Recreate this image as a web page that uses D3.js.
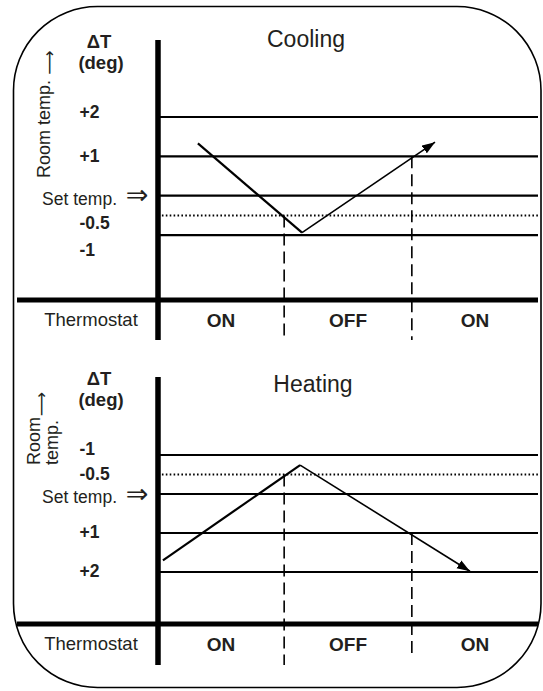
<!DOCTYPE html>
<html><head><meta charset="utf-8">
<script src="https://cdn.jsdelivr.net/npm/d3@7"></script>
<style>
body{margin:0;background:#fff}
svg{display:block}
text{font-family:"Liberation Sans",Arial,Helvetica,sans-serif;fill:#231f20}
</style>
</head><body>
<svg id="c" width="543" height="691"></svg>
<script>
// ---------- data ----------
const levelValues = [2, 1, 0, -0.5, -1];
const levelLabels = ["+2", "+1", "Set temp.", "-0.5", "-1"];
const dottedLevel = -0.5;
const switchTimes = [33.2, 66.8];
const switchLevels = [-0.5, 1];
const thermostatStates = ["ON", "OFF", "ON"];
const coolingTimes = [10.5, 37.9, 72.9];
const coolingDelta = [1.33, -0.94, 1.36];
const heatingTimes = [1.3, 37.4, 82.1];
const heatingDelta = [1.70, -0.74, 1.98];
const panelTitles = ["Cooling", "Heating"];

// ---------- layout ----------
const svg = d3.select("#c");
const x = d3.scaleLinear().domain([0, 100]).range([158, 538]);

const panels = [
  {title: panelTitles[0], times: coolingTimes, vals: coolingDelta,
   y: d3.scaleLinear().domain([0, 2]).range([195.7, 117]),
   axisTop: 40, axisBottom: 340, thermoY: 300, dashEnd: [340, 340],
   titleX: 306, titleY: 47, dTy: 48, degY: 69,
   labelDy: [0.5, 5.6, 8.8, 13.6, 21], stateY: 327, thermoText: 326},
  {title: panelTitles[1], times: heatingTimes, vals: heatingDelta,
   y: d3.scaleLinear().domain([0, 2]).range([494, 572]),
   axisTop: 377, axisBottom: 665, thermoY: 624, dashEnd: [665, 657],
   titleX: 313, titleY: 392, dTy: 385, degY: 406,
   labelDy: [5, 5, 9, 5.5, 0], stateY: 651, thermoText: 650}
];

// frame
svg.append("rect").attr("x", 13.5).attr("y", 6.5).attr("width", 527.5).attr("height", 681)
  .attr("rx", 84).attr("ry", 84).attr("fill", "none").attr("stroke", "#000").attr("stroke-width", 1.6);

// marker
svg.append("defs").append("marker").attr("id", "arr")
  .attr("viewBox", "0 -5 13 10").attr("refX", 13).attr("refY", 0)
  .attr("markerWidth", 13).attr("markerHeight", 10).attr("markerUnits", "userSpaceOnUse")
  .attr("orient", "auto")
  .append("path").attr("d", "M0,-4.6L13,0L0,4.6Z").attr("fill", "#000");

const line = (p) => d3.line().x(d => x(d[0])).y(d => p.y(d[1]));

panels.forEach((p, pi) => {
  const g = svg.append("g");
  // level lines
  levelValues.forEach(v => {
    g.append("line").attr("x1", x.range()[0]).attr("x2", x.range()[1])
      .attr("y1", p.y(v)).attr("y2", p.y(v))
      .attr("stroke", "#000").attr("stroke-width", v === dottedLevel ? 2 : 2.2)
      .attr("stroke-dasharray", v === dottedLevel ? "1.6,2.3" : null);
  });
  // labels
  levelValues.forEach((v, i) => {
    const yy = p.y(v) + p.labelDy[i];
    if (v === 0) {
      g.append("text").attr("x", 117).attr("y", yy).attr("text-anchor", "end")
        .attr("font-size", 17.5).text(levelLabels[i]);
      g.append("text").attr("x", 137).attr("y", p.y(v) + 8.5).attr("text-anchor", "middle")
        .style("font-family", "'DejaVu Sans',sans-serif").attr("font-size", 27).text("\u21D2");
    } else {
      g.append("text").attr("x", 79.5).attr("y", yy).attr("font-size", 17.5)
        .attr("font-weight", "bold").text(levelLabels[i]);
    }
  });
  // ΔT (deg)
  g.append("text").attr("x", 99).attr("y", p.dTy).attr("text-anchor", "middle")
    .attr("font-size", 18.5).attr("font-weight", "bold").text("\u0394T");
  g.append("text").attr("x", 101).attr("y", p.degY).attr("text-anchor", "middle")
    .attr("font-size", 18.5).attr("font-weight", "bold").text("(deg)");
  // title
  g.append("text").attr("x", p.titleX).attr("y", p.titleY).attr("text-anchor", "middle")
    .attr("font-size", 23).text(p.title);
  // dashed switch lines
  switchTimes.forEach((t, i) => {
    g.append("line").attr("x1", x(t)).attr("x2", x(t))
      .attr("y1", p.y(switchLevels[i])).attr("y2", p.dashEnd[i])
      .attr("stroke", "#000").attr("stroke-width", 1.6).attr("stroke-dasharray", "12,6");
  });
  // trend lines
  const pts = p.times.map((t, i) => [t, p.vals[i]]);
  g.append("path").attr("d", line(p)(pts.slice(0, 2))).attr("fill", "none")
    .attr("stroke", "#000").attr("stroke-width", 2.2);
  g.append("path").attr("d", line(p)(pts.slice(1, 3))).attr("fill", "none")
    .attr("stroke", "#000").attr("stroke-width", 1.6).attr("marker-end", "url(#arr)");
  // axes
  g.append("line").attr("x1", x.range()[0]).attr("x2", x.range()[0])
    .attr("y1", p.axisTop).attr("y2", p.axisBottom).attr("stroke", "#000").attr("stroke-width", 5.5);
  g.append("line").attr("x1", 17).attr("x2", x.range()[1])
    .attr("y1", p.thermoY).attr("y2", p.thermoY).attr("stroke", "#000").attr("stroke-width", 5);
  // thermostat row
  g.append("text").attr("x", 91).attr("y", p.thermoText).attr("text-anchor", "middle")
    .attr("font-size", 18.5).text("Thermostat");
  const bounds = [x.domain()[0], ...switchTimes, x.domain()[1]];
  thermostatStates.forEach((s, i) => {
    g.append("text").attr("x", (x(bounds[i]) + x(bounds[i + 1])) / 2).attr("y", p.stateY)
      .attr("text-anchor", "middle").attr("font-size", 19).attr("font-weight", "bold").text(s);
  });
});

// rotated axis titles
const arrowFont = "'DejaVu Sans',sans-serif";
svg.append("text").attr("transform", "translate(50,178) rotate(-90)").attr("font-size", 18).text("Room temp.");
svg.append("text").attr("transform", "translate(55,62.5) rotate(-90)").attr("text-anchor", "middle")
  .style("font-family", arrowFont).attr("font-size", 17).text("\u27F6");
svg.append("text").attr("transform", "translate(40,465) rotate(-90)").attr("font-size", 18).text("Room");
svg.append("text").attr("transform", "translate(58,465) rotate(-90)").attr("font-size", 18).text("temp.");
svg.append("text").attr("transform", "translate(47,404) rotate(-90)").attr("text-anchor", "middle")
  .style("font-family", arrowFont).attr("font-size", 17).text("\u27F6");
</script>
</body></html>
